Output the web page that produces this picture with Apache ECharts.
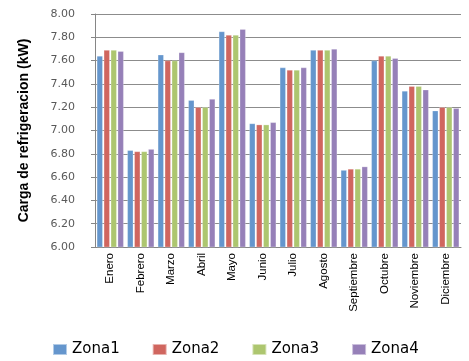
<!DOCTYPE html>
<html><head><meta charset="utf-8">
<script src="https://cdn.jsdelivr.net/npm/echarts@6/dist/echarts.min.js"></script>
<style>html,body{margin:0;padding:0;background:#fff}#c{width:469px;height:361px}</style>
</head><body><div id="c"></div>
<script>
const categories = ["Enero","Febrero","Marzo","Abril","Mayo","Junio","Julio","Agosto","Septiembre","Octubre","Noviembre","Diciembre"];
const zona1 = [7.64, 6.83, 7.65, 7.26, 7.85, 7.06, 7.54, 7.69, 6.66, 7.60, 7.34, 7.17];
const zona2 = [7.69, 6.82, 7.60, 7.20, 7.82, 7.05, 7.52, 7.69, 6.67, 7.64, 7.38, 7.20];
const zona3 = [7.69, 6.82, 7.60, 7.20, 7.82, 7.05, 7.52, 7.69, 6.67, 7.64, 7.38, 7.20];
const zona4 = [7.68, 6.84, 7.67, 7.27, 7.87, 7.07, 7.54, 7.70, 6.69, 7.62, 7.35, 7.19];
const seriesNames = ["Zona1","Zona2","Zona3","Zona4"];
const colors = ["#6596cd","#d0665f","#adc66f","#9680b8"];
const values = [zona1, zona2, zona3, zona4];

const chart = echarts.init(document.getElementById('c'), null, {renderer:'canvas'});
chart.setOption({
  animation: false,
  grid: {left: 95, right: 8, top: 14, bottom: 114},
  legend: {
    left: 47, top: 337, itemWidth: 14, itemHeight: 11, itemGap: 32,
    icon: 'rect',
    textStyle: {fontFamily: 'DejaVu Sans', fontSize: 15, color: '#000'},
    data: seriesNames
  },
  xAxis: {
    type: 'category', data: categories,
    axisLine: {lineStyle: {color: '#868686'}},
    axisTick: {show: false},
    axisLabel: {rotate: 90, interval: 0, fontFamily: 'Liberation Sans', fontSize: 11.5, color: '#000', margin: 6}
  },
  yAxis: {
    type: 'value', min: 6, max: 8, interval: 0.2,
    name: 'Carga de refrigeracion (kW)', nameLocation: 'middle', nameGap: 64,
    nameTextStyle: {fontFamily: 'Liberation Sans', fontWeight: 'bold', fontSize: 14, color: '#000'},
    axisLine: {show: true, lineStyle: {color: '#868686'}},
    axisTick: {show: true, length: 4, lineStyle: {color: '#868686'}},
    splitLine: {lineStyle: {color: '#8c8c8c', width: 1}},
    axisLabel: {formatter: v => v.toFixed(2), fontFamily: 'DejaVu Sans', fontSize: 11, color: '#595959', margin: 20}
  },
  series: values.map((d, i) => ({
    name: seriesNames[i], type: 'bar', data: d,
    barGap: '18%', barCategoryGap: '12%',
    itemStyle: {color: colors[i], borderColor: 'rgba(255,255,255,0.5)', borderWidth: 0.5}
  }))
});
</script></body></html>
